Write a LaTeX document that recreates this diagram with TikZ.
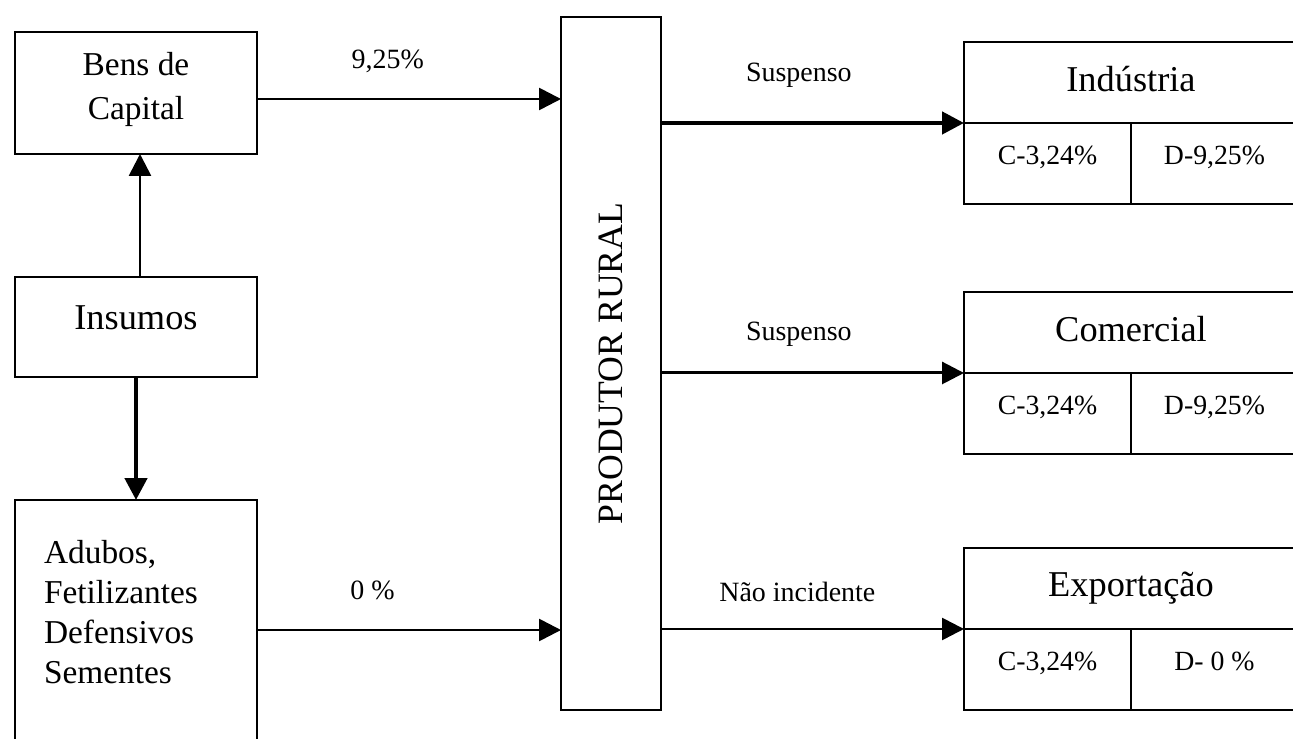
\documentclass[tikz,border=0pt]{standalone}
\usepackage{fontspec}
\setmainfont{Liberation Serif}
\usetikzlibrary{arrows.meta,positioning}
\tikzset{
  box/.style={draw, line width=1.1pt, align=center, inner sep=0pt, outer sep=0pt},
  headcell/.style={box, minimum width=6.68cm, minimum height=1.62cm, text depth=0.16cm,
    font=\fontsize{20.7}{24}\selectfont},
  ratecell/.style={box, minimum width=3.34cm, minimum height=1.62cm, text depth=0.32cm,
    font=\fontsize{15.8}{19}\selectfont},
  flow/.style={line width=1.5pt, -{Triangle[length=4.4mm,width=4.4mm]}},
  boldflow/.style={flow, line width=2.6pt},
  midflow/.style={flow, line width=1.7pt},
  lbl/.style={font=\fontsize{15.9}{19}\selectfont, inner sep=0pt}
}

\begin{document}
\begin{tikzpicture}[x=0.02cm, y=-0.02cm]
    \useasboundingbox (0,0) rectangle (1293,739);

    % entradas
    \node[box, minimum width=4.84cm, minimum height=2.44cm, text depth=0.28cm,
      font=\fontsize{19}{25}\selectfont] (bens) at (136,93) {Bens de\\Capital};
    \node[box, minimum width=4.84cm, minimum height=2cm, text depth=0.36cm,
      font=\fontsize{20.7}{24}\selectfont] (ins) at (136,327) {Insumos};
    \node[box, align=left, inner xsep=0.58cm, text width=3.68cm, minimum height=5.2cm,
      text depth=3.14cm, font=\fontsize{19}{22.8}\selectfont] (adb) at (136,630)
      {Adubos,\\Fetilizantes\\Defensivos\\Sementes};

    \node[box, minimum width=2cm, minimum height=13.86cm,
      font=\fontsize{20.3}{24}\selectfont] (prod) at (611,363.5) {\rotatebox{90}{PRODUTOR RURAL}};

    % destinos
    \node[headcell, anchor=north west] (ind) at (964,42) {Indústria};
    \node[ratecell, anchor=north west] (indC) at (ind.south west) {C-3,24\%};
    \node[ratecell, anchor=north east] (indD) at (ind.south east) {D-9,25\%};

    \node[headcell, anchor=north west] (com) at (964,292) {Comercial};
    \node[ratecell, anchor=north west] (comC) at (com.south west) {C-3,24\%};
    \node[ratecell, anchor=north east] (comD) at (com.south east) {D-9,25\%};

    \node[headcell, anchor=north west] (exp) at (964,548) {Exportação};
    \node[ratecell, anchor=north west] (expC) at (exp.south west) {C-3,24\%};
    \node[ratecell, anchor=north east] (expD) at (exp.south east) {D- 0 \%};

    \draw[flow] ([xshift=0.08cm]ins.north) -- ([xshift=0.08cm]bens.south);
    \draw[boldflow] (ins.south) -- (adb.north);
    \draw[flow] ([yshift=-0.12cm]bens.east) -- node[lbl, pos=0.43, yshift=0.76cm]{9,25\%}
      ([yshift=-0.12cm]bens.east -| prod.west);
    \draw[flow] (adb.east) -- node[lbl, pos=0.38, yshift=0.8cm]{0 \%} (adb.east -| prod.west);
    \draw[boldflow] (prod.east |- ind.south) -- node[lbl, pos=0.455, yshift=0.96cm]{Suspenso} (ind.south west);
    \draw[midflow] (prod.east |- com.south) -- node[lbl, pos=0.455, yshift=0.78cm]{Suspenso} (com.south west);
    \draw[flow] (prod.east |- exp.south) -- node[lbl, pos=0.45, yshift=0.74cm]{Não incidente} (exp.south west);
  \end{tikzpicture}
\end{document}
